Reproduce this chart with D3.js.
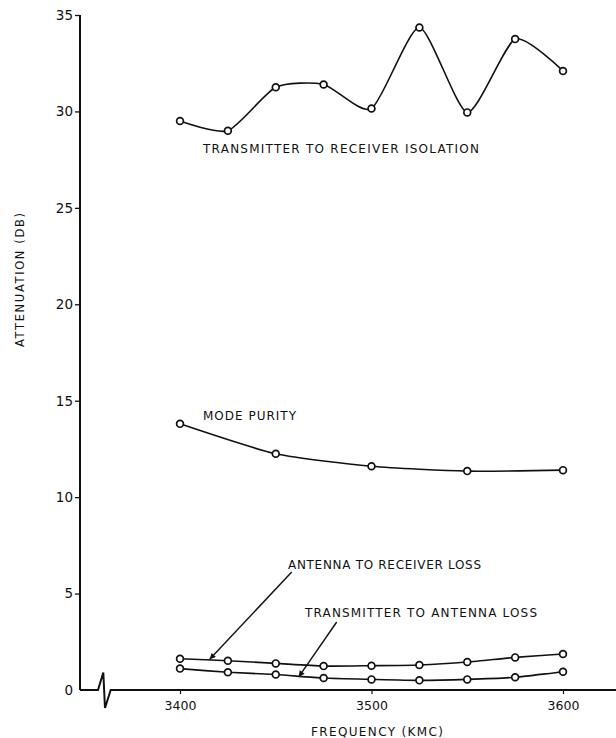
<!DOCTYPE html>
<html>
<head>
<meta charset="utf-8">
<script src="https://cdn.jsdelivr.net/npm/d3@7"></script>
<style>
  html, body { margin: 0; padding: 0; background: #fff; }
  svg { display: block; }
  text { font-family: "DejaVu Sans", "Liberation Sans", sans-serif; fill: #111; }
</style>
</head>
<body>
<svg id="chart" width="616" height="738"></svg>
<script>
// Frequencies (KMC) at which each series was measured
const freqsFine = [3400, 3425, 3450, 3475, 3500, 3525, 3550, 3575, 3600];
const freqsCoarse = [3400, 3450, 3500, 3550, 3600];

// Attenuation (DB) per series
const isolation = [29.5, 29.0, 31.25, 31.4, 30.15, 34.35, 29.95, 33.75, 32.1];
const modePurity = [13.8, 12.25, 11.6, 11.35, 11.4];
const antennaToReceiver = [1.62, 1.52, 1.38, 1.24, 1.26, 1.3, 1.45, 1.69, 1.87];
const transmitterToAntenna = [1.11, 0.92, 0.8, 0.62, 0.55, 0.5, 0.55, 0.66, 0.95];

// Axis ticks
const yTicks = [0, 5, 10, 15, 20, 25, 30, 35];
const xTicks = [3400, 3500, 3600];

const svg = d3.select("#chart");
const W = 616;
const originX = 80;

const x = d3.scaleLinear().domain([3400, 3600]).range([180, 563]);
const y = d3.scaleLinear().domain([0, 35]).range([690, 15]);

const ink = "#111";

// Y axis
const yAxis = d3.axisLeft(y).tickValues(yTicks).tickSize(5).tickPadding(2)
  .tickFormat(d3.format("d"));
const gy = svg.append("g").attr("transform", `translate(${originX},0)`).call(yAxis);
gy.select(".domain").remove();
gy.selectAll(".tick line").attr("stroke", ink).attr("stroke-width", 1.3)
  .filter(d => d === 0).remove();
gy.selectAll(".tick text").attr("font-size", 13.5).attr("fill", ink)
  .attr("font-family", "DejaVu Sans, sans-serif");

svg.append("line")
  .attr("x1", originX).attr("x2", originX)
  .attr("y1", y(35)).attr("y2", y(0))
  .attr("stroke", ink).attr("stroke-width", 2);

// X axis with a break mark near the origin
const gx = svg.append("g").attr("transform", `translate(0,${y(0)})`)
  .call(d3.axisBottom(x).tickValues(xTicks).tickSize(4).tickPadding(7)
    .tickFormat(d3.format("d")));
gx.select(".domain").remove();
gx.selectAll(".tick line").attr("stroke", ink).attr("stroke-width", 1.2);
gx.selectAll(".tick text").attr("font-size", 12.5).attr("fill", ink)
  .attr("font-family", "DejaVu Sans, sans-serif");

const y0 = y(0);
const breakPath = [
  [originX, y0], [originX + 18, y0], [originX + 23.3, y0 - 17.5],
  [originX + 25, y0 + 18], [originX + 30.7, y0], [W, y0]
];
svg.append("path")
  .attr("d", d3.line()(breakPath))
  .attr("fill", "none").attr("stroke", ink).attr("stroke-width", 2)
  .attr("stroke-linejoin", "miter");

// Axis titles
svg.append("text")
  .attr("transform", "translate(24,280) rotate(-90)")
  .attr("text-anchor", "middle")
  .attr("font-size", 11.5)
  .attr("textLength", 134).attr("lengthAdjust", "spacing")
  .text("ATTENUATION (DB)");

svg.append("text")
  .attr("x", 311).attr("y", 736)
  .attr("font-size", 12)
  .attr("textLength", 132).attr("lengthAdjust", "spacing")
  .text("FREQUENCY (KMC)");

// Series
const series = [
  { f: freqsFine, v: isolation },
  { f: freqsCoarse, v: modePurity },
  { f: freqsFine, v: antennaToReceiver },
  { f: freqsFine, v: transmitterToAntenna }
];

const line = d3.line()
  .x(d => x(d[0])).y(d => y(d[1]))
  .curve(d3.curveCardinal.tension(0.35));

series.forEach(s => {
  const pts = s.f.map((f, i) => [f, s.v[i]]);
  svg.append("path")
    .attr("d", line(pts))
    .attr("fill", "none").attr("stroke", ink).attr("stroke-width", 1.6);
  svg.append("g").selectAll("circle").data(pts).join("circle")
    .attr("cx", d => x(d[0])).attr("cy", d => y(d[1]))
    .attr("r", 3.4)
    .attr("fill", "#fff").attr("stroke", ink).attr("stroke-width", 1.7);
});

// Series labels
const labels = [
  { text: "TRANSMITTER TO RECEIVER ISOLATION", x: 203, y: 153, len: 276 },
  { text: "MODE PURITY", x: 203, y: 420, len: 93 },
  { text: "ANTENNA TO RECEIVER LOSS", x: 288, y: 569, len: 193 },
  { text: "TRANSMITTER TO ANTENNA LOSS", x: 305, y: 617, len: 232 }
];
svg.append("g").selectAll("text").data(labels).join("text")
  .attr("x", d => d.x).attr("y", d => d.y)
  .attr("font-size", 12)
  .attr("textLength", d => d.len).attr("lengthAdjust", "spacing")
  .text(d => d.text);

// Leader arrows from labels to the loss curves
svg.append("defs").append("marker")
  .attr("id", "arrow")
  .attr("viewBox", "0 0 10 10")
  .attr("refX", 10).attr("refY", 5)
  .attr("markerWidth", 10).attr("markerHeight", 6)
  .attr("markerUnits", "userSpaceOnUse")
  .attr("orient", "auto")
  .append("path").attr("d", "M0,0 L10,5 L0,10 Z").attr("fill", ink);

const arrows = [
  { x1: 291.7, y1: 572, f: 3415.5, v: antennaToReceiver[0] - 0.03 },
  { x1: 336.7, y1: 622, f: 3462, v: transmitterToAntenna[2] - 0.12 }
];
svg.append("g").selectAll("line").data(arrows).join("line")
  .attr("x1", d => d.x1).attr("y1", d => d.y1)
  .attr("x2", d => x(d.f)).attr("y2", d => y(d.v))
  .attr("stroke", ink).attr("stroke-width", 1.4)
  .attr("marker-end", "url(#arrow)");
</script>
</body>
</html>
